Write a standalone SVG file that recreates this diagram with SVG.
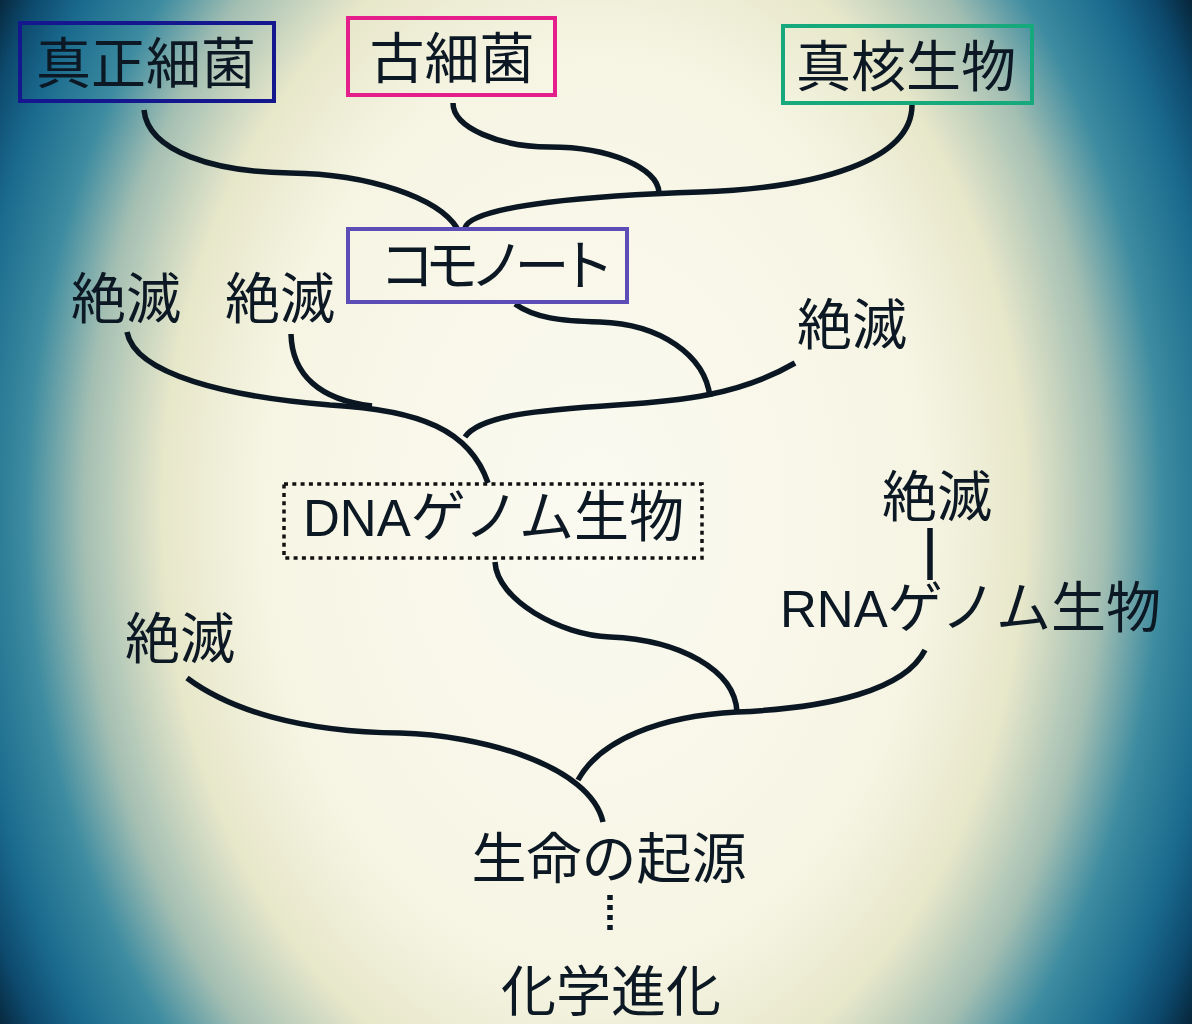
<svg xmlns="http://www.w3.org/2000/svg" width="1192" height="1024" viewBox="0 0 1192 1024">
<defs>
<radialGradient id="bg" gradientUnits="userSpaceOnUse" cx="0" cy="0" r="1" gradientTransform="translate(594 512) scale(720 1000)">
<stop offset="0" stop-color="#fbfaf1"/>
<stop offset="0.46" stop-color="#f6f5e4"/>
<stop offset="0.6" stop-color="#e7e7ca"/>
<stop offset="0.71" stop-color="#a2beb2"/>
<stop offset="0.79" stop-color="#3c8ba0"/>
<stop offset="0.875" stop-color="#1a6a8e"/>
<stop offset="0.93" stop-color="#0d4a6e"/>
<stop offset="1" stop-color="#03121e"/>
</radialGradient>
<style>
.t{font-family:"Liberation Sans","Noto Sans CJK JP",sans-serif;font-size:55px;fill:#0c1823;text-anchor:middle}
.box{fill:none;stroke-width:4}
.c{fill:none;stroke:#0a1722;stroke-width:5.5}
</style>
</defs>
<rect width="1192" height="1024" fill="url(#bg)"/>
<g id="connectors">
<path class="c" d="M144,110 C148,152 215,172 290,173 C370,174 438,198 457,228"/>
<path class="c" d="M453,103 C453,128 500,147 550,147 C610,147 657,168 659,192"/>
<path class="c" d="M912,105 C912,160 820,188 700,192 C600,195 470,205 465,228"/>
<path class="c" d="M515,304 C535,318 560,321 600,322 C660,324 705,355 710,397"/>
<path class="c" d="M465,437 C480,415 540,410 617,405 C680,401 740,395 795,363"/>
<path class="c" d="M127,332 C135,375 230,397 330,405 C420,410 470,430 488,483"/>
<path class="c" d="M291,334 C292,375 320,400 372,406"/>
<path class="c" d="M495,562 C497,600 560,635 610,637 C680,640 735,670 737,712"/>
<path class="c" d="M925,650 C905,690 830,708 737,712 C660,716 600,740 578,780"/>
<path class="c" d="M187,678 C230,710 300,732 400,733 C480,735 590,765 603,822"/>
<line class="c" x1="930" y1="528" x2="930" y2="580" stroke-width="5"/>
<line class="c" x1="610" y1="895" x2="610" y2="930" stroke-width="5" stroke-dasharray="5 5"/>
</g>
<g id="n-eubacteria">
<rect class="box" x="20" y="23" width="254" height="78" stroke="#15178f"/>
<text class="t" x="146" y="83">真正細菌</text>
</g>
<g id="n-archaea">
<rect class="box" x="348" y="18" width="207" height="77" stroke="#e41f8c"/>
<text class="t" x="452" y="78">古細菌</text>
</g>
<g id="n-eukaryote">
<rect class="box" x="783" y="26" width="249" height="77" stroke="#16a97b"/>
<text class="t" x="906" y="86">真核生物</text>
</g>
<g id="n-commonote">
<rect class="box" x="348" y="229" width="279" height="73" stroke="#5b4db5"/>
<text class="t" x="492" y="285" font-size="48" letter-spacing="-10">コモノート</text>
</g>
<g id="n-ext1"><text class="t" x="126" y="318">絶滅</text></g>
<g id="n-ext2"><text class="t" x="280" y="318">絶滅</text></g>
<g id="n-ext3"><text class="t" x="852" y="344">絶滅</text></g>
<g id="n-dna">
<rect x="284" y="484" width="418" height="74" fill="none" stroke="#111" stroke-width="3.5" stroke-dasharray="4 4.3"/>
<text class="t" x="303" y="536" font-size="48" style="text-anchor:start"><tspan font-size="51">DNA</tspan>ゲノム生物</text>
</g>
<g id="n-ext4"><text class="t" x="937" y="516">絶滅</text></g>
<g id="n-rna"><text class="t" x="780" y="627" font-size="47" style="text-anchor:start"><tspan font-size="51">RNA</tspan>ゲノム生物</text></g>
<g id="n-ext5"><text class="t" x="180" y="658">絶滅</text></g>
<g id="n-origin"><text class="t" x="609" y="878">生命の起源</text></g>
<g id="n-chem"><text class="t" x="611" y="1011">化学進化</text></g>
</svg>
